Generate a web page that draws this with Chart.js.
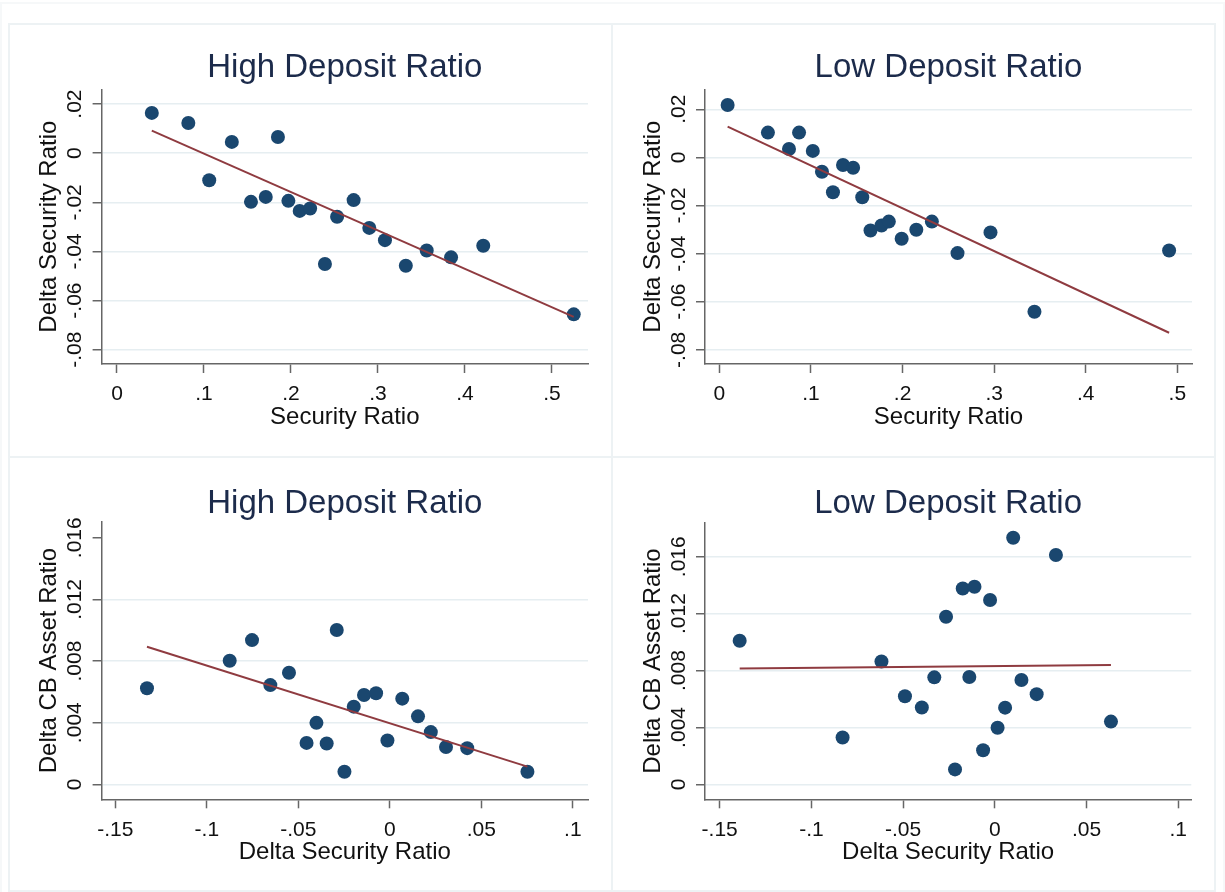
<!DOCTYPE html>
<html>
<head>
<meta charset="utf-8">
<title>Deposit Ratio Scatter</title>
<script src="https://cdn.jsdelivr.net/npm/chart.js@4.4.1/dist/chart.umd.min.js"></script>
<style>
  body { margin: 0; background: #fff; }
  #wrap { position: relative; width: 1225px; height: 892px; overflow: hidden; }
  .box { position: absolute; border: 2px solid #edf2f4; box-sizing: border-box; }
  canvas { position: absolute; }
</style>
</head>
<body>
<div id="wrap">
  <div class="box" style="left:0;top:2px;width:1225px;height:892px;border-color:#f6f8f9"></div>
  <div class="box" style="left:8px;top:23px;width:605px;height:435px"></div>
  <div class="box" style="left:611px;top:23px;width:605px;height:435px"></div>
  <div class="box" style="left:8px;top:456px;width:605px;height:436px"></div>
  <div class="box" style="left:611px;top:456px;width:605px;height:436px"></div>
  <canvas id="tl" width="612" height="457" style="left:0;top:0"></canvas>
  <canvas id="tr" width="613" height="457" style="left:612px;top:0"></canvas>
  <canvas id="bl" width="612" height="435" style="left:0;top:457px"></canvas>
  <canvas id="br" width="613" height="435" style="left:612px;top:457px"></canvas>
</div>
<script>
// High deposit ratio banks: security ratio vs delta security ratio
const hiSecRatio = [0.040, 0.082, 0.132, 0.185, 0.106, 0.154, 0.171, 0.197, 0.210, 0.222, 0.253, 0.272, 0.290, 0.308, 0.239, 0.332, 0.356, 0.384, 0.421, 0.525];
const hiSecDelta = [0.0164, 0.0123, 0.0046, 0.0066, -0.0110, -0.0198, -0.0178, -0.0194, -0.0235, -0.0225, -0.0259, -0.0191, -0.0304, -0.0354, -0.0451, -0.0458, -0.0396, -0.0424, -0.0377, -0.0656];
const hiSecFitX = [0.040, 0.525];
const hiSecFitY = [0.0092, -0.0666];

// Low deposit ratio banks
const loSecRatio = [0.009, 0.053, 0.087, 0.076, 0.102, 0.112, 0.124, 0.135, 0.146, 0.156, 0.165, 0.177, 0.185, 0.199, 0.215, 0.232, 0.260, 0.296, 0.344, 0.491];
const loSecDelta = [0.0218, 0.0103, 0.0103, 0.0035, 0.0027, -0.0060, -0.0145, -0.0032, -0.0043, -0.0166, -0.0304, -0.0283, -0.0267, -0.0338, -0.0301, -0.0267, -0.0398, -0.0312, -0.0642, -0.0387];
const loSecFitX = [0.009, 0.491];
const loSecFitY = [0.0128, -0.0729];

// Delta security ratio vs delta CB asset ratio
const hiDeltaSec = [-0.1327, -0.0875, -0.0753, -0.0653, -0.0551, -0.0455, -0.0401, -0.0345, -0.0290, -0.0248, -0.0197, -0.0141, -0.0075, -0.0013, 0.0068, 0.0154, 0.0224, 0.0307, 0.0423, 0.0752];
const hiDeltaCb = [0.00623, 0.00802, 0.00936, 0.00644, 0.00724, 0.00269, 0.00399, 0.00265, 0.01001, 0.00082, 0.00504, 0.00580, 0.00591, 0.00284, 0.00556, 0.00441, 0.00339, 0.00242, 0.00235, 0.00082];
const hiCbFitX = [-0.1327, 0.0752];
const hiCbFitY = [0.00893, 0.00115];

const loDeltaSec = [-0.1391, -0.0830, -0.0618, -0.0490, -0.0398, -0.0330, -0.0266, -0.0217, -0.0175, -0.0111, -0.0139, -0.0064, -0.0026, 0.0015, 0.0056, 0.0100, 0.0145, 0.0228, 0.0333, 0.0633];
const loDeltaCb = [0.01009, 0.00329, 0.00864, 0.00619, 0.00540, 0.00752, 0.01178, 0.00105, 0.01377, 0.01389, 0.00755, 0.00240, 0.01296, 0.00398, 0.00539, 0.01733, 0.00733, 0.00634, 0.01612, 0.00441];
const loCbFitX = [-0.1391, 0.0633];
const loCbFitY = [0.00815, 0.00839];

// Tick values and labels
const secTicks = [0, 0.1, 0.2, 0.3, 0.4, 0.5];
const secTickLabels = ['0', '.1', '.2', '.3', '.4', '.5'];
const secDeltaTicks = [-0.08, -0.06, -0.04, -0.02, 0, 0.02];
const secDeltaTickLabels = ['-.08', '-.06', '-.04', '-.02', '0', '.02'];
const deltaTicks = [-0.15, -0.1, -0.05, 0, 0.05, 0.1];
const deltaTickLabels = ['-.15', '-.1', '-.05', '0', '.05', '.1'];
const cbTicks = [0, 0.004, 0.008, 0.012, 0.016];
const cbTickLabels = ['0', '.004', '.008', '.012', '.016'];

const FONT = 'Liberation Sans, Arial, Helvetica, sans-serif';
const AXIS = '#666';
const TITLE_SIZE = 33, LABEL_SIZE = 24, TICK_SIZE = 21;

function makePanel(id, p) {
  const canvas = document.getElementById(id);
  const W = canvas.width, H = canvas.height;
  const pts = p.xs.map((x, i) => ({ x: x, y: p.ys[i] }));
  const fit = p.fitX.map((x, i) => ({ x: x, y: p.fitY[i] }));
  const titleLine = TITLE_SIZE * 1.2;
  const titleTop = p.titleY - titleLine / 2;
  const labelHalf = LABEL_SIZE * 1.2 / 2;

  return new Chart(canvas.getContext('2d'), {
    type: 'scatter',
    data: {
      datasets: [{
        data: fit,
        showLine: true,
        borderColor: '#8f3b40',
        borderWidth: 2,
        pointRadius: 0,
        order: 0
      }, {
        data: pts,
        backgroundColor: '#1a476f',
        borderWidth: 0,
        pointRadius: 7,
        pointHoverRadius: 7,
        order: 1
      }]
    },
    options: {
      responsive: false,
      animation: false,
      devicePixelRatio: 1,
      layout: { padding: { left: 0, right: W - p.area.right, top: titleTop, bottom: 0 } },
      plugins: {
        legend: { display: false },
        tooltip: { enabled: false },
        title: {
          display: true,
          text: p.title,
          fullSize: false,
          color: '#1c2b4b',
          font: { family: FONT, size: TITLE_SIZE, weight: 'normal', lineHeight: 1.2 },
          padding: { top: 0, bottom: p.area.top - titleTop - titleLine }
        }
      },
      scales: {
        x: {
          type: 'linear',
          min: p.xMin,
          max: p.xMax,
          afterBuildTicks: s => { s.ticks = p.xTicks.map(v => ({ value: v })); },
          afterFit: s => { s.height = H - p.area.bottom; },
          border: { display: true, color: AXIS, width: 1.5 },
          grid: { drawOnChartArea: false, tickLength: 9, tickColor: AXIS, tickWidth: 1.5 },
          ticks: {
            autoSkip: false, maxRotation: 0, padding: 9, color: '#111',
            font: { family: FONT, size: TICK_SIZE },
            callback: (v, i) => p.xLabels[i]
          },
          title: {
            display: true, text: p.xTitle, color: '#111',
            font: { family: FONT, size: LABEL_SIZE },
            padding: { top: 0, bottom: H - labelHalf - (p.area.bottom + 53) }
          }
        },
        y: {
          type: 'linear',
          min: p.yMin,
          max: p.yMax,
          afterBuildTicks: s => { s.ticks = p.yTicks.map(v => ({ value: v })); },
          afterFit: s => { s.width = p.area.left; },
          border: { display: true, color: AXIS, width: 1.5 },
          grid: {
            color: c => (c.tick && p.noGrid.includes(c.tick.value)) ? 'rgba(0,0,0,0)' : '#e6eef1',
            lineWidth: 1.5,
            tickLength: 9, tickColor: AXIS, tickWidth: 1.5
          },
          ticks: {
            autoSkip: false, minRotation: 90, maxRotation: 90,
            crossAlign: 'center', padding: p.yTickPad, color: '#111',
            font: { family: FONT, size: TICK_SIZE },
            callback: (v, i) => p.yLabels[i]
          },
          title: {
            display: true, text: p.yTitle, color: '#111',
            font: { family: FONT, size: LABEL_SIZE },
            padding: { top: p.area.left - 52 - labelHalf, bottom: 0 }
          }
        }
      }
    }
  });
}

makePanel('tl', {
  title: 'High Deposit Ratio', xs: hiSecRatio, ys: hiSecDelta, fitX: hiSecFitX, fitY: hiSecFitY,
  xMin: -0.0177, xMax: 0.5414, yMin: -0.0858, yMax: 0.026,
  xTicks: secTicks, xLabels: secTickLabels, yTicks: secDeltaTicks, yLabels: secDeltaTickLabels,
  xTitle: 'Security Ratio', yTitle: 'Delta Security Ratio',
  area: { left: 101.6, right: 588, top: 89.3, bottom: 364 }, titleY: 68, yTickPad: -1, noGrid: []
});

makePanel('tr', {
  title: 'Low Deposit Ratio', xs: loSecRatio, ys: loSecDelta, fitX: loSecFitX, fitY: loSecFitY,
  xMin: -0.0157, xMax: 0.516, yMin: -0.0859, yMax: 0.0283,
  xTicks: secTicks, xLabels: secTickLabels, yTicks: secDeltaTicks, yLabels: secDeltaTickLabels,
  xTitle: 'Security Ratio', yTitle: 'Delta Security Ratio',
  area: { left: 93, right: 580, top: 89.3, bottom: 364 }, titleY: 68, yTickPad: -1, noGrid: []
});

makePanel('bl', {
  title: 'High Deposit Ratio', xs: hiDeltaSec, ys: hiDeltaCb, fitX: hiCbFitX, fitY: hiCbFitY,
  xMin: -0.1575, xMax: 0.1083, yMin: -0.00097, yMax: 0.01704,
  xTicks: deltaTicks, xLabels: deltaTickLabels, yTicks: cbTicks, yLabels: cbTickLabels,
  xTitle: 'Delta Security Ratio', yTitle: 'Delta CB Asset Ratio',
  area: { left: 101.6, right: 588, top: 64.7, bottom: 342.3 }, titleY: 46.5, yTickPad: -3.5, noGrid: [0.016]
});

makePanel('br', {
  title: 'Low Deposit Ratio', xs: loDeltaSec, ys: loDeltaCb, fitX: loCbFitX, fitY: loCbFitY,
  xMin: -0.158, xMax: 0.1071, yMin: -0.00105, yMax: 0.01839,
  xTicks: deltaTicks, xLabels: deltaTickLabels, yTicks: cbTicks, yLabels: cbTickLabels,
  xTitle: 'Delta Security Ratio', yTitle: 'Delta CB Asset Ratio',
  area: { left: 93, right: 579.3, top: 65.7, bottom: 342.3 }, titleY: 46.5, yTickPad: -3.5, noGrid: []
});
</script>
</body>
</html>
